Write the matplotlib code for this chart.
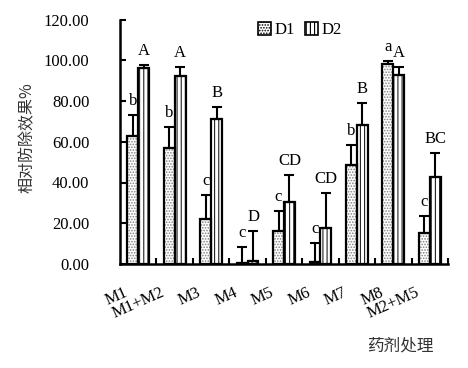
import matplotlib
matplotlib.use("Agg")
import matplotlib.pyplot as plt
import matplotlib.transforms as mtransforms
from matplotlib.patches import Patch
import numpy as np

categories = ["M1", "M1+M2", "M3", "M4", "M5", "M6", "M7", "M8", "M2+M5"]
d1_values = [62.9, 56.7, 22.0, 0.3, 16.2, 1.1, 48.6, 98.2, 15.0]
d1_errors = [10.3, 10.6, 11.7, 8.1, 9.8, 9.3, 9.9, 1.3, 8.4]
d2_values = [96.2, 92.3, 71.4, 1.6, 30.4, 17.9, 68.3, 93.0, 42.6]
d2_errors = [1.7, 4.4, 5.7, 14.5, 13.2, 16.9, 10.7, 3.6, 11.7]
d1_letters = ["b", "b", "c", "c", "c", "c", "b", "a", "c"]
d2_letters = ["A", "A", "B", "D", "CD", "CD", "B", "A", "BC"]
yticks = [0, 20, 40, 60, 80, 100, 120]
series_names = ["D1", "D2"]

serif = "Liberation Serif"
cjk = ["Noto Sans CJK SC", "DejaVu Sans"]
plt.rcParams["hatch.linewidth"] = 0.8

fig = plt.figure(figsize=(4.68, 3.68), dpi=100)
ax = fig.add_axes([120 / 468, 1 - 264 / 368, 328 / 468, 244.5 / 368])

x = np.arange(len(categories))
w = 0.3
xd1 = x - w / 2
xd2 = x + w / 2

# hatch fills
ax.bar(xd1, d1_values, w, color="white", edgecolor="#808080", hatch="......", linewidth=0, zorder=2)
ax.bar(xd2, d2_values, w, color="white", edgecolor="#222222", hatch="||||", linewidth=0, zorder=2)
# outlines
ax.bar(xd1, d1_values, w, fill=False, edgecolor="black", linewidth=1.6, zorder=3)
ax.bar(xd2, d2_values, w, fill=False, edgecolor="black", linewidth=1.6, zorder=3)

ek = dict(fmt="none", ecolor="black", elinewidth=1.5, capsize=3.8, capthick=1.5, zorder=4)
ax.errorbar(xd1, d1_values, yerr=[np.zeros(len(x)), d1_errors], **ek)
ax.errorbar(xd2, d2_values, yerr=[np.zeros(len(x)), d2_errors], **ek)

for xi, v, e, t in zip(xd1, d1_values, d1_errors, d1_letters):
    ax.annotate(t, (xi, v + e), xytext=(0, 10), textcoords="offset pixels",
                ha="center", va="baseline", family=serif, fontsize=12, zorder=5)
for xi, v, e, t in zip(xd2, d2_values, d2_errors, d2_letters):
    ax.annotate(t, (xi, v + e), xytext=(0, 10), textcoords="offset pixels",
                ha="center", va="baseline", family=serif, fontsize=12, zorder=5)

ax.set_xlim(-0.5, 8.5)
ax.set_ylim(0, 120)

for s in ["top", "right"]:
    ax.spines[s].set_visible(False)
for s in ["left", "bottom"]:
    ax.spines[s].set_linewidth(1.8)

ax.set_yticks(yticks)
ax.set_yticklabels([f"{v:.2f}" for v in yticks], family=serif, fontsize=12)
ax.tick_params(axis="y", direction="in", length=4, width=1.5, pad=22)

ax.set_xticks(np.arange(len(categories)) + 0.5)
ax.set_xticklabels([])
ax.tick_params(axis="x", which="major", direction="in", length=4, width=1.5)
ax.set_xticks(x, minor=True)
ax.set_xticklabels(categories, minor=True, family=serif, fontsize=12,
                   rotation=24, ha="right", rotation_mode="anchor")
ax.tick_params(axis="x", which="minor", length=0, pad=15)
offset = mtransforms.ScaledTranslation(-14 / 100, 0, fig.dpi_scale_trans)
for lab in ax.get_xticklabels(minor=True):
    lab.set_transform(lab.get_transform() + offset)

fig.text(27 / 468, 1 - 138 / 368, "相对防除效果%", rotation=90, ha="center", va="center",
         family=cjk, fontsize=11.5, color="#333333")
fig.text(400 / 468, 1 - 346 / 368, "药剂处理", ha="center", va="center",
         family=cjk, fontsize=12, color="#333333")

handles = [Patch(facecolor="white", edgecolor="black", hatch="......", linewidth=1.2),
           Patch(facecolor="white", edgecolor="black", hatch="||||", linewidth=1.2)]
leg = fig.legend(handles, series_names, loc="center", bbox_to_anchor=(300 / 468, 1 - 30 / 368),
                 ncol=2, frameon=False, handlelength=0.8, handleheight=0.8, handletextpad=0.2,
                 columnspacing=0.6, prop={"family": serif, "size": 12})

fig.savefig("out.png", dpi=100)
